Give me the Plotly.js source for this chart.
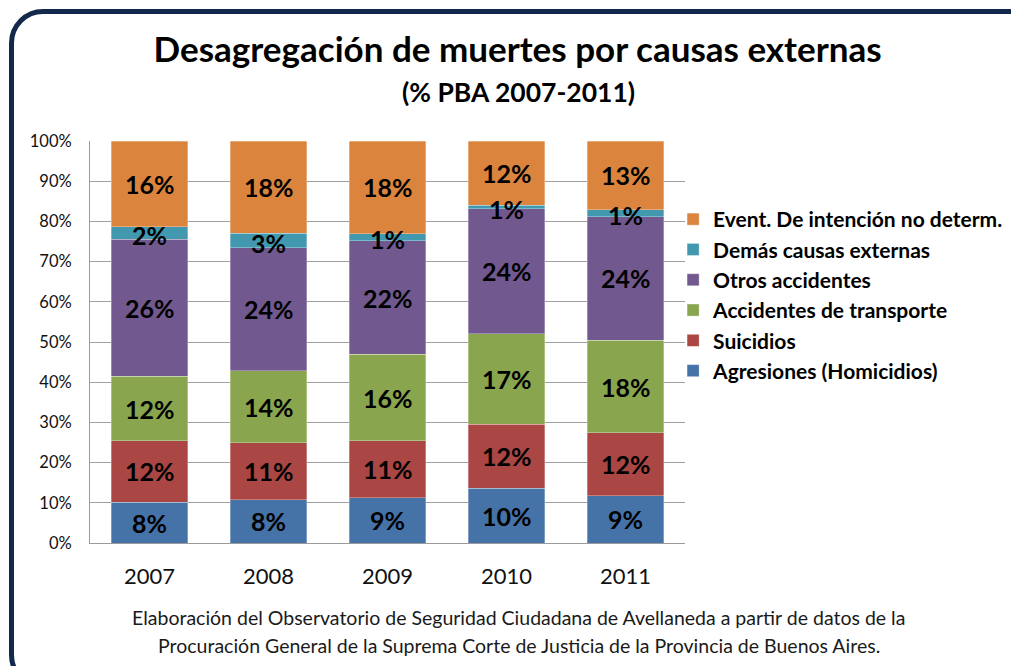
<!DOCTYPE html>
<html>
<head>
<meta charset="utf-8">
<script src="https://cdn.plot.ly/plotly-3.0.1.min.js"></script>
<style>
  html, body { margin: 0; padding: 0; background: #ffffff; overflow: hidden; }
  #wrap { position: relative; width: 1011px; height: 666px; }
  #chart { position: absolute; left: 0; top: 0; width: 1011px; height: 666px; }
  #frame { position: absolute; left: 9px; top: 9px; width: 1040px; height: 680px;
           border: 5px solid #13294b; border-radius: 34px; pointer-events: none; box-sizing: border-box; }
</style>
</head>
<body>
<div id="wrap">
  <div id="chart"></div>
  <div id="frame"></div>
</div>
<script>
// Categories (years)
const years = ['2007', '2008', '2009', '2010', '2011'];

// Segment shares (fraction of 100%)
const agresiones  = [0.102, 0.107, 0.113, 0.136, 0.117];
const suicidios   = [0.152, 0.143, 0.141, 0.159, 0.157];
const transporte  = [0.161, 0.179, 0.215, 0.226, 0.230];
const otros       = [0.341, 0.306, 0.283, 0.310, 0.308];
const demas       = [0.031, 0.035, 0.017, 0.009, 0.017];
const eventos     = [0.213, 0.230, 0.231, 0.160, 0.171];

// Printed labels on each segment
const agresionesLbl = ['8%', '8%', '9%', '10%', '9%'];
const suicidiosLbl  = ['12%', '11%', '11%', '12%', '12%'];
const transporteLbl = ['12%', '14%', '16%', '17%', '18%'];
const otrosLbl      = ['26%', '24%', '22%', '24%', '24%'];
const demasLbl      = ['2%', '3%', '1%', '1%', '1%'];
const eventosLbl    = ['16%', '18%', '18%', '12%', '13%'];

const seriesNames = ['Agresiones (Homicidios)', 'Suicidios', 'Accidentes de transporte',
                     'Otros accidentes', 'Demás causas externas', 'Event. De intención no determ.'];
const seriesVals = [agresiones, suicidios, transporte, otros, demas, eventos];
const seriesLbls = [agresionesLbl, suicidiosLbl, transporteLbl, otrosLbl, demasLbl, eventosLbl];
const seriesColors = ['#4572a7', '#aa4643', '#89a54e', '#71588f', '#4198af', '#db843d'];

const FONT = 'Lato, "Open Sans", sans-serif';

const traces = seriesVals.map((vals, i) => ({
  type: 'bar',
  name: seriesNames[i],
  x: years,
  y: vals,
  marker: { color: seriesColors[i], line: { color: 'rgba(255,255,255,0.6)', width: 0.5 } },
  hoverinfo: 'name+y'
}));

// Labels centred on each segment, computed from the cumulative stack
// (x given as category index so the category axis places them on each bar)
const annotations = [];
const cum = years.map(() => 0);
seriesVals.forEach((vals, i) => {
  vals.forEach((v, j) => {
    annotations.push({
      x: j, y: cum[j] + v / 2, xref: 'x', yref: 'y',
      text: '<b>' + seriesLbls[i][j] + '</b>', showarrow: false,
      font: { family: FONT, size: 25, color: '#000000' },
      yshift: (i === 4) ? -2 : 0
    });
    cum[j] += v;
  });
});

// Subtitle
annotations.push({
  xref: 'paper', yref: 'paper', x: 0.721, y: (543 - 92) / 402, xanchor: 'center', yanchor: 'middle',
  text: '<b>(% PBA 2007-2011)</b>', showarrow: false,
  font: { family: FONT, size: 26.5, color: '#000000' }
});
// Source note
annotations.push({
  xref: 'paper', yref: 'paper', x: 0.721, y: (543 - 617) / 402, xanchor: 'center', yanchor: 'middle',
  text: 'Elaboración del Observatorio de Seguridad Ciudadana de Avellaneda a partir de datos de la',
  showarrow: false, font: { family: FONT, size: 19.5, color: '#1a1a1a' }
});
annotations.push({
  xref: 'paper', yref: 'paper', x: 0.721, y: (543 - 645) / 402, xanchor: 'center', yanchor: 'middle',
  text: 'Procuración General de la Suprema Corte de Justicia de la Provincia de Buenos Aires.',
  showarrow: false, font: { family: FONT, size: 19.5, color: '#1a1a1a' }
});

const layout = {
  width: 1011, height: 666,
  margin: { l: 90, r: 326, t: 141, b: 123, pad: 0, autoexpand: false },
  paper_bgcolor: '#ffffff', plot_bgcolor: '#ffffff',
  barmode: 'stack', bargap: 0.36,
  title: {
    text: '<b>Desagregación de muertes por causas externas</b>',
    x: 0.512, xref: 'container', xanchor: 'center',
    y: 1 - 50 / 666, yref: 'container', yanchor: 'middle',
    font: { family: FONT, size: 35, color: '#000000' }
  },
  xaxis: {
    type: 'category', range: [-0.5, 4.5], autorange: false,
    showline: true, linecolor: '#9a9a9a', linewidth: 1,
    ticks: '', showgrid: false,
    tickfont: { family: FONT, size: 22, color: '#111111' },
    ticklabelstandoff: 14
  },
  yaxis: {
    range: [0, 1], autorange: false, dtick: 0.1, tickformat: '.0%',
    showline: true, linecolor: '#9a9a9a', linewidth: 1,
    showgrid: true, gridcolor: '#a0a0a0', gridwidth: 1,
    zeroline: false, ticks: '',
    tickfont: { family: FONT, size: 16.5, color: '#111111' },
    ticklabelstandoff: 14
  },
  legend: {
    x: 0.980, xanchor: 'left', y: (543 - 199) / 402, yanchor: 'top',
    traceorder: 'reversed',
    font: { family: FONT, size: 21, color: '#000000', weight: 'bold' },
    bgcolor: 'rgba(0,0,0,0)', itemwidth: 30
  },
  annotations: annotations,
  showlegend: true
};

Plotly.newPlot('chart', traces, layout, { displayModeBar: false, staticPlot: true });
</script>
</body>
</html>
